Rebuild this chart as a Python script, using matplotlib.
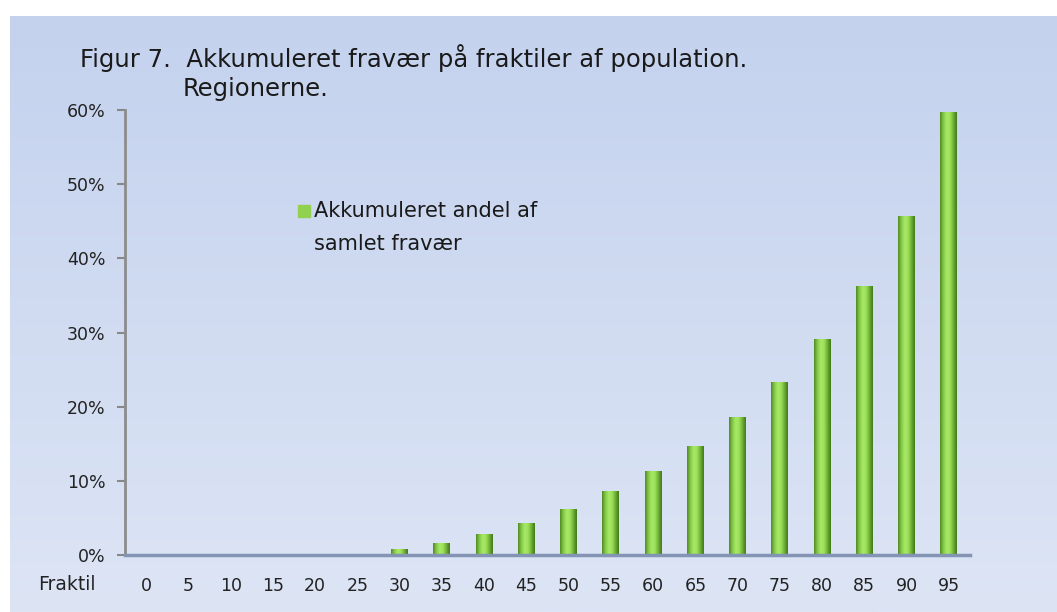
import numpy as np
import matplotlib.pyplot as plt
from matplotlib.colors import LinearSegmentedColormap
from matplotlib.patches import Rectangle

plt.rcParams['font.family'] = ['DejaVu Sans']

fraktiler = ['0', '5', '10', '15', '20', '25', '30', '35', '40', '45',
             '50', '55', '60', '65', '70', '75', '80', '85', '90', '95']
andel = [0.0, 0.0, 0.0, 0.0, 0.0, 0.0, 0.007, 0.015, 0.027, 0.043,
         0.062, 0.085, 0.113, 0.146, 0.186, 0.233, 0.291, 0.362, 0.457, 0.597]
yticks = [0.0, 0.1, 0.2, 0.3, 0.4, 0.5, 0.6]

W, H = 1057, 612
fig = plt.figure(figsize=(W / 100, H / 100), dpi=100)
fig.patch.set_facecolor('white')

# background panel with a soft vertical gradient
bg = fig.add_axes([10 / W, 0, 1 - 10 / W, 1 - 16 / H], zorder=-5)
bg_cmap = LinearSegmentedColormap.from_list('bg', ['#dde5f5', '#c4d2ee'])
bg.imshow(np.linspace(0, 1, 256).reshape(-1, 1), aspect='auto', cmap=bg_cmap,
          origin='lower', extent=[0, 1, 0, 1])
bg.axis('off')

ax = fig.add_axes([125 / W, (H - 555) / H, 845 / W, 445 / H])
ax.patch.set_alpha(0)

# cylinder-like shading for the bars
bar_cmap = LinearSegmentedColormap.from_list(
    'bar', ['#4f8a22', '#86c94a', '#a8ea66', '#9be05a', '#6fae36', '#3f7a18'])
x = np.arange(len(fraktiler))
width = 0.4
bars = ax.bar(x, andel, width=width, color='#92d050', zorder=2)
for b, v in zip(bars, andel):
    if v <= 0:
        continue
    x0 = b.get_x()
    ax.imshow(np.linspace(0, 1, 64).reshape(1, -1), cmap=bar_cmap, aspect='auto',
              extent=[x0, x0 + width, 0, v], zorder=3, interpolation='bicubic')
ax.set_xlim(-0.5, len(fraktiler) - 0.5)
ax.set_ylim(0, 0.6)

ax.set_yticks(yticks)
ax.set_yticklabels([f'{int(round(t * 100))}%' for t in yticks], fontsize=12.5, color='#222222')
ax.set_xticks(x)
ax.set_xticklabels(fraktiler, fontsize=12.5, color='#222222')
ax.tick_params(axis='x', length=0, pad=16)
ax.tick_params(axis='y', length=6, width=1.5, color='#888888', pad=8, direction='out')

for s in ['top', 'right']:
    ax.spines[s].set_visible(False)
ax.spines['left'].set_color('#8c8c8c')
ax.spines['left'].set_linewidth(2)
ax.spines['bottom'].set_color('#8494b4')
ax.spines['bottom'].set_linewidth(2.5)
ax.spines['bottom'].set_zorder(4)

fig.text(38 / W, 1 - 585 / H, 'Fraktil', fontsize=13.5, color='#222222', va='center')

fig.text(80 / W, 1 - 58 / H, 'Figur 7.  Akkumuleret fravær på fraktiler af population.',
         fontsize=17.5, color='#1a1a1a', va='center')
fig.text(183 / W, 1 - 89 / H, 'Regionerne.', fontsize=17.5, color='#1a1a1a', va='center')

# legend
fig.patches.append(Rectangle((298 / W, 1 - 217 / H), 12 / W, 12 / H,
                             transform=fig.transFigure, color='#92d050', figure=fig))
fig.text(314 / W, 1 - 211 / H, 'Akkumuleret andel af', fontsize=15, color='#1a1a1a', va='center')
fig.text(314 / W, 1 - 244 / H, 'samlet fravær', fontsize=15, color='#1a1a1a', va='center')

fig.savefig('out.png', dpi=100)
